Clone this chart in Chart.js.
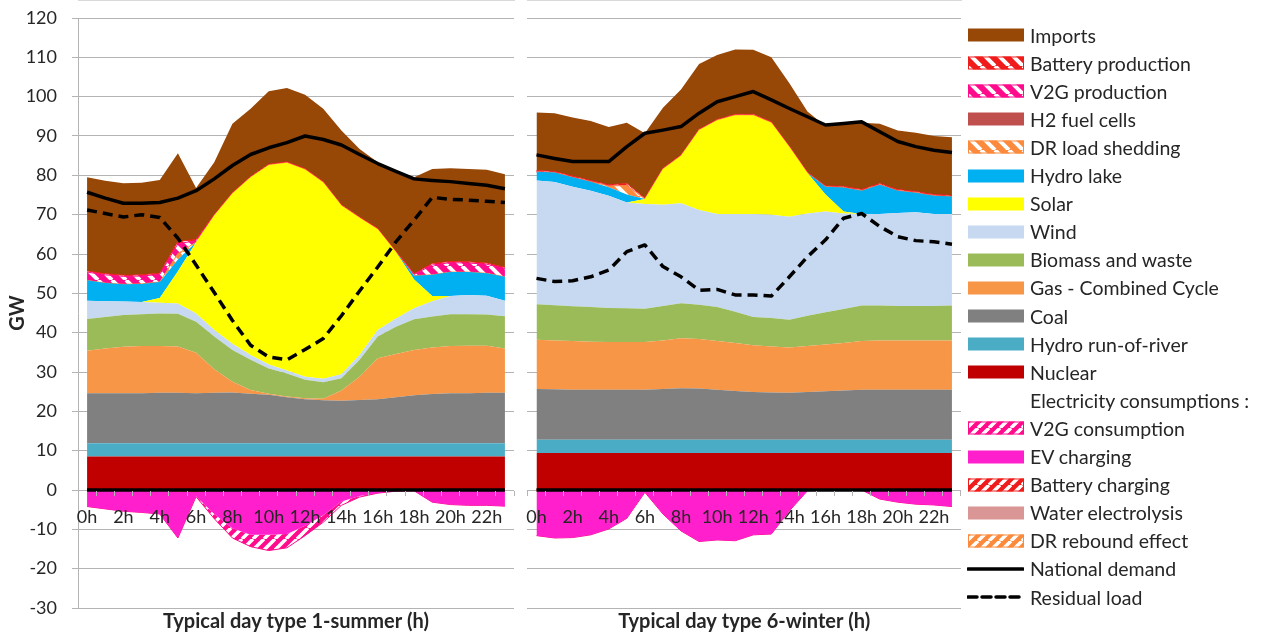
<!DOCTYPE html>
<html lang="en">
<head>
<meta charset="utf-8">
<title>Typical day power balance</title>
<script src="https://cdn.jsdelivr.net/npm/chart.js@4.4.1/dist/chart.umd.min.js"></script>
<style>
  html, body { margin: 0; padding: 0; background: #fff; }
  body { position: relative; width: 1271px; height: 634px; overflow: hidden; font-family: Lato, "Open Sans", sans-serif; }
  .panel { position: absolute; top: 0; height: 634px; }
  #summerPanel { left: 0; width: 520px; }
  #winterPanel { left: 515px; width: 452px; }
  #legend { position: absolute; left: 967px; top: 0; width: 304px; height: 634px; }
  .key { position: absolute; left: 0; height: 22px; display: flex; align-items: center; white-space: nowrap; font-size: 19.5px; color: #262626; }
  .key canvas { width: 57px; height: 22px; margin-right: 6px; flex: none; }
</style>
</head>
<body>
<div id="summerPanel" class="panel"><canvas id="summerChart"></canvas></div>
<div id="winterPanel" class="panel"><canvas id="winterChart"></canvas></div>
<div id="legend"></div>

<script>
const hourLabels = ['0h', '1h', '2h', '3h', '4h', '5h', '6h', '7h', '8h', '9h', '10h', '11h',
  '12h', '13h', '14h', '15h', '16h', '17h', '18h', '19h', '20h', '21h', '22h', '23h'];

// hours with no flow at all (also used for the black line along 0 GW)
const noFlow = [0, 0, 0, 0, 0, 0, 0, 0, 0, 0, 0, 0, 0, 0, 0, 0, 0, 0, 0, 0, 0, 0, 0, 0];

// Typical day type 1 - summer (GW)
const summerNuclear = [8.5, 8.5, 8.5, 8.5, 8.5, 8.5, 8.5, 8.5, 8.5, 8.5, 8.5, 8.5, 8.5, 8.5, 8.5, 8.5, 8.5, 8.5, 8.5, 8.5, 8.5, 8.5, 8.5, 8.5];
const summerRunOfRiver = [3.4, 3.4, 3.4, 3.4, 3.4, 3.4, 3.4, 3.4, 3.4, 3.4, 3.4, 3.4, 3.4, 3.4, 3.4, 3.4, 3.4, 3.4, 3.4, 3.4, 3.4, 3.4, 3.4, 3.4];
const summerCoal = [12.7, 12.7, 12.7, 12.7, 12.8, 12.8, 12.7, 12.8, 12.9, 12.6, 12.3, 11.7, 11.2, 10.9, 10.8, 11.0, 11.2, 11.7, 12.2, 12.5, 12.7, 12.7, 12.8, 12.8];
const summerGas = [10.8, 11.4, 11.8, 12.0, 11.9, 11.8, 10.3, 6.0, 2.7, 0.9, 0.3, 0.2, 0.2, 0.4, 2.6, 5.9, 10.4, 11.0, 11.5, 11.8, 12.0, 12.1, 12.0, 11.3];
const summerBiomass = [8.1, 8.0, 8.1, 8.1, 8.3, 8.3, 7.9, 8.3, 8.1, 7.7, 6.4, 5.8, 4.7, 4.2, 3.1, 4.3, 5.5, 6.9, 7.8, 7.9, 8.1, 8.0, 7.9, 8.2];
const summerWind = [4.6, 4.0, 3.4, 3.1, 2.7, 2.6, 2.1, 1.7, 1.6, 1.2, 1.0, 0.8, 0.8, 0.9, 1.0, 1.2, 1.7, 2.1, 2.8, 3.9, 4.6, 4.9, 4.8, 3.9];
const summerSolar = [0, 0, 0, 0, 1.2, 8.2, 18.1, 29.1, 38.2, 45.2, 50.7, 52.8, 52.7, 49.9, 42.9, 34.9, 25.6, 16.9, 7.3, 1.3, 0, 0, 0, 0];
const summerHydroLake = [5.2, 4.6, 4.4, 4.6, 4.1, 3.0, 0, 0, 0, 0, 0, 0, 0, 0, 0, 0, 0, 0, 1.0, 5.4, 6.1, 5.8, 5.7, 6.1];
const summerShedding = [0, 0, 0, 0, 0, 1.5, 0, 0, 0, 0, 0, 0, 0, 0, 0, 0, 0, 0, 0, 0, 0, 0, 0, 0];
const summerV2gOut = [2.1, 2.1, 2.0, 2.0, 1.9, 2.5, 0.4, 0, 0, 0, 0, 0, 0, 0, 0, 0, 0, 0, 0.3, 2.5, 2.4, 2.3, 2.3, 2.1];
const summerBatteryOut = [0.3, 0.3, 0.3, 0.3, 0.3, 0.6, 0.3, 0.2, 0.2, 0.2, 0.2, 0.2, 0.2, 0.2, 0.2, 0.2, 0.2, 0.2, 0.2, 0.4, 0.3, 0.3, 0.3, 0.3];
const summerImports = [23.8, 23.6, 23.4, 23.4, 23.7, 22.4, 13.1, 13.3, 17.5, 17.2, 18.6, 18.8, 18.8, 18.5, 18.9, 17.3, 16.8, 20.5, 24.5, 24.0, 23.7, 23.6, 23.7, 23.7];
const summerBatteryIn = [0, 0, 0, 0, 0, -0.3, -0.4, 0, 0, 0, 0, 0, 0, 0, 0, 0, 0, 0, 0, 0, 0, 0, 0, 0];
const summerEv = [-4.2, -4.8, -5.4, -5.7, -6.1, -11.9, -1.2, -6.1, -9.7, -11.4, -11.4, -11.2, -9.1, -6.4, -2.9, -1.5, -0.8, -0.3, -0.2, -3.1, -3.7, -3.9, -3.9, -4.1];
const summerV2gIn = [0, 0, 0, 0, 0, 0, -0.1, -1.2, -2.5, -3.0, -4.0, -3.5, -2.5, -1.8, -1.0, -0.3, 0, 0, 0, 0, 0, 0, 0, 0];
const summerDemand = [75.7, 74.2, 72.9, 72.9, 73.1, 74.2, 76.1, 79.1, 82.5, 85.3, 87.0, 88.3, 90.0, 89.1, 87.7, 85.3, 83.0, 81.0, 79.1, 78.7, 78.4, 77.9, 77.5, 76.6];
const summerResidual = [71.2, 70.3, 69.4, 70.0, 69.3, 64.0, 57.2, 50.2, 43.1, 36.8, 33.8, 33.1, 35.7, 38.5, 44.3, 50.6, 56.7, 63.1, 68.6, 74.4, 73.9, 73.7, 73.4, 73.1];

// Typical day type 6 - winter (GW)
const winterNuclear = [9.4, 9.4, 9.4, 9.4, 9.4, 9.4, 9.4, 9.4, 9.4, 9.4, 9.4, 9.4, 9.4, 9.4, 9.4, 9.4, 9.4, 9.4, 9.4, 9.4, 9.4, 9.4, 9.4, 9.4];
const winterRunOfRiver = [3.4, 3.4, 3.4, 3.4, 3.4, 3.4, 3.4, 3.4, 3.4, 3.4, 3.4, 3.4, 3.4, 3.4, 3.4, 3.4, 3.4, 3.4, 3.4, 3.4, 3.4, 3.4, 3.4, 3.4];
const winterCoal = [12.9, 12.8, 12.7, 12.7, 12.7, 12.7, 12.7, 12.9, 13.1, 13.0, 12.7, 12.4, 12.1, 12.0, 11.9, 12.1, 12.3, 12.5, 12.7, 12.7, 12.7, 12.7, 12.7, 12.7];
const winterGas = [12.5, 12.4, 12.4, 12.2, 12.1, 12.1, 12.1, 12.3, 12.7, 12.6, 12.4, 12.2, 11.9, 11.7, 11.5, 11.7, 11.9, 12.1, 12.4, 12.5, 12.5, 12.5, 12.5, 12.5];
const winterBiomass = [9.0, 9.0, 8.8, 8.8, 8.7, 8.6, 8.5, 8.8, 8.9, 8.7, 8.6, 7.9, 7.2, 7.2, 7.1, 7.7, 8.2, 8.6, 9.0, 8.9, 8.8, 8.8, 8.8, 8.9];
const winterWind = [31.5, 31.3, 30.4, 29.6, 28.5, 26.9, 26.6, 25.7, 25.4, 24.1, 23.7, 24.9, 26.2, 26.3, 26.2, 26.0, 25.6, 24.3, 23.3, 23.3, 23.6, 23.8, 23.4, 23.3];
const winterSolar = [0, 0, 0, 0, 0, 0, 1.3, 9.1, 12.1, 20.3, 23.8, 25.1, 25.1, 23.4, 17.7, 10.3, 4.3, 0.5, 0, 0, 0, 0, 0, 0];
const winterHydroLake = [2.2, 2.4, 2.4, 2.3, 2.2, 2.0, 0, 0, 0, 0, 0, 0, 0, 0, 0, 0, 2.0, 6.1, 5.9, 7.4, 5.7, 5.0, 4.6, 4.4];
const winterShedding = [0, 0, 0, 0, 0.3, 2.3, 0, 0, 0, 0, 0, 0, 0, 0, 0, 0, 0, 0, 0, 0, 0, 0, 0, 0];
const winterBatteryOut = [0.3, 0.3, 0.3, 0.3, 0.3, 0.5, 0.2, 0.2, 0.2, 0.2, 0.2, 0.2, 0.2, 0.2, 0.2, 0.2, 0.2, 0.3, 0.3, 0.3, 0.3, 0.3, 0.3, 0.3];
const winterImports = [14.8, 14.8, 14.9, 15.1, 14.7, 15.5, 16.5, 15.4, 16.6, 16.6, 16.4, 16.5, 16.4, 16.4, 16.0, 15.4, 15.2, 15.9, 17.0, 15.2, 15.0, 14.9, 14.9, 14.8];
const winterEv = [-11.6, -12.2, -12.1, -11.4, -9.9, -7.2, -0.6, -6.1, -10.4, -13.1, -12.7, -12.9, -11.4, -11.2, -5.3, -0.2, 0, 0, 0, -2.3, -3.1, -3.6, -3.8, -4.2];
const winterDemand = [85.2, 84.3, 83.5, 83.5, 83.5, 87.3, 90.7, 91.5, 92.4, 95.8, 98.7, 100.0, 101.3, 99.2, 97.0, 94.9, 92.8, 93.2, 93.6, 91.1, 88.6, 87.3, 86.4, 85.8];
const winterResidual = [53.8, 53.0, 53.2, 54.2, 55.9, 60.6, 62.3, 56.8, 54.2, 50.8, 51.0, 49.6, 49.6, 49.3, 54.2, 59.3, 63.6, 69.1, 70.3, 67.0, 64.4, 63.4, 63.1, 62.5];

// Production layers, stacked from 0 upwards
const PRODUCTION = [
  { key: 'nuclear', label: 'Nuclear', color: '#c00000' },
  { key: 'runOfRiver', label: 'Hydro run-of-river', color: '#4bacc6' },
  { key: 'coal', label: 'Coal', color: '#808080' },
  { key: 'gas', label: 'Gas - Combined Cycle', color: '#f79646' },
  { key: 'biomass', label: 'Biomass and waste', color: '#9bbb59' },
  { key: 'wind', label: 'Wind', color: '#c6d9f1' },
  { key: 'solar', label: 'Solar', color: '#ffff00' },
  { key: 'hydroLake', label: 'Hydro lake', color: '#00b0f0' },
  { key: 'shedding', label: 'DR load shedding', color: '#fb8a3c', hatch: '\\' },
  { key: 'fuelCells', label: 'H2 fuel cells', color: '#c0504d' },
  { key: 'v2gOut', label: 'V2G production', color: '#ff0b8c', hatch: '\\' },
  { key: 'batteryOut', label: 'Battery production', color: '#f01c1c', hatch: '\\' },
  { key: 'imports', label: 'Imports', color: '#974706' }
];

// Consumption layers, stacked from 0 downwards
const CONSUMPTION = [
  { key: 'rebound', label: 'DR rebound effect', color: '#fb8a3c', hatch: '/' },
  { key: 'electrolysis', label: 'Water electrolysis', color: '#d99694' },
  { key: 'batteryIn', label: 'Battery charging', color: '#f01c1c', hatch: '/' },
  { key: 'ev', label: 'EV charging', color: '#ff1fcc' },
  { key: 'v2gIn', label: 'V2G consumption', color: '#ff0b8c', hatch: '/' }
];

const summer = {
  nuclear: summerNuclear, runOfRiver: summerRunOfRiver, coal: summerCoal, gas: summerGas,
  biomass: summerBiomass, wind: summerWind, solar: summerSolar, hydroLake: summerHydroLake,
  shedding: summerShedding, fuelCells: noFlow, v2gOut: summerV2gOut, batteryOut: summerBatteryOut,
  imports: summerImports, rebound: noFlow, electrolysis: noFlow, batteryIn: summerBatteryIn,
  ev: summerEv, v2gIn: summerV2gIn, demand: summerDemand, residual: summerResidual
};

const winter = {
  nuclear: winterNuclear, runOfRiver: winterRunOfRiver, coal: winterCoal, gas: winterGas,
  biomass: winterBiomass, wind: winterWind, solar: winterSolar, hydroLake: winterHydroLake,
  shedding: winterShedding, fuelCells: noFlow, v2gOut: noFlow, batteryOut: winterBatteryOut,
  imports: winterImports, rebound: noFlow, electrolysis: noFlow, batteryIn: noFlow,
  ev: winterEv, v2gIn: noFlow, demand: winterDemand, residual: winterResidual
};

const GRID = '#b4b4b4';
const TEXT = '#262626';
const FONT = 'Lato, "Open Sans", sans-serif';

Chart.defaults.font.family = FONT;
Chart.defaults.color = TEXT;

// white diagonal stripes over a base colour
function hatchPattern(base, dir) {
  const size = dir === '/' ? 11 : 14;
  const tile = document.createElement('canvas');
  tile.width = tile.height = size;
  const g = tile.getContext('2d');
  g.fillStyle = base;
  g.fillRect(0, 0, size, size);
  g.strokeStyle = '#ffffff';
  g.lineWidth = dir === '/' ? 3.5 : 4;
  g.beginPath();
  for (let k = -1; k <= 1; k++) {
    if (dir === '/') {
      g.moveTo(k * size, size);
      g.lineTo(k * size + size, 0);
    } else {
      g.moveTo(k * size, 0);
      g.lineTo(k * size + size, size);
    }
  }
  g.stroke();
  return g.createPattern(tile, 'repeat');
}

function areaSet(style, data, stack, first) {
  return {
    label: style.label,
    data,
    stack,
    fill: first ? 'origin' : '-1',
    backgroundColor: style.hatch ? hatchPattern(style.color, style.hatch) : style.color,
    borderColor: style.hatch ? style.color : 'rgba(0,0,0,0)',
    borderWidth: style.hatch ? 1 : 0,
    pointRadius: 0,
    tension: 0
  };
}

function lineSet(label, data, dash, stack) {
  return {
    label,
    data,
    stack,
    fill: false,
    borderColor: '#000000',
    borderWidth: 3.5,
    borderDash: dash,
    borderCapStyle: 'butt',
    borderJoinStyle: 'round',
    pointRadius: 0,
    tension: 0
  };
}

function buildDatasets(series) {
  // lines go first: Chart.js paints the first dataset last, i.e. on top
  const sets = [
    lineSet('National demand', series.demand, [], 'demand'),
    lineSet('Residual load', series.residual, [10, 6], 'residual'),
    lineSet('zero', noFlow, [], 'zero')
  ];
  CONSUMPTION.forEach((s, i) => sets.push(areaSet(s, series[s.key], 'consumption', i === 0)));
  PRODUCTION.forEach((s, i) => sets.push(areaSet(s, series[s.key], 'production', i === 0)));
  return sets;
}

function panelOptions(title, withAxis) {
  const tickFont = { family: FONT, size: 18 };
  const titleFont = { family: FONT, size: 20, weight: 'bold' };
  return {
    responsive: true,
    maintainAspectRatio: false,
    animation: false,
    events: [],
    layout: { padding: { top: 18, right: 6, bottom: 0, left: 0 } },
    plugins: {
      legend: { display: false },
      tooltip: { enabled: false },
      title: {
        display: true,
        text: title,
        position: 'bottom',
        fullSize: false,
        color: TEXT,
        font: titleFont,
        padding: { top: 2, bottom: 0 }
      }
    },
    scales: {
      x: {
        type: 'category',
        position: { y: 0 },
        offset: true,
        // hour labels and tick marks sit over the consumption areas
        grid: { offset: true, drawOnChartArea: false, drawTicks: true, tickLength: 5, color: GRID, z: 1 },
        border: { color: GRID, z: 0 },
        ticks: {
          z: 1,
          autoSkip: false,
          maxRotation: 0,
          padding: 11,
          color: TEXT,
          font: tickFont,
          callback: (value, index) => (index % 2 === 0 ? hourLabels[index] : '')
        }
      },
      y: {
        stacked: true,
        min: -30,
        max: 120,
        ticks: { display: withAxis, stepSize: 10, padding: 15, color: TEXT, font: tickFont },
        grid: { color: GRID, drawTicks: withAxis, tickLength: 6 },
        border: { display: withAxis, color: GRID },
        title: {
          display: withAxis,
          text: 'GW',
          color: TEXT,
          font: titleFont,
          padding: { top: 6, bottom: 0 }
        },
        afterFit: (scale) => {
          scale.width = withAxis ? 78 : 10;
          // keep the plot edges at 120 / -30 GW independent of label size
          scale.paddingTop = 0;
          scale.paddingBottom = 0;
        }
      }
    }
  };
}

new Chart(document.getElementById('summerChart'), {
  type: 'line',
  data: { labels: hourLabels, datasets: buildDatasets(summer) },
  options: panelOptions('Typical day type 1-summer (h)', true)
});

new Chart(document.getElementById('winterChart'), {
  type: 'line',
  data: { labels: hourLabels, datasets: buildDatasets(winter) },
  options: panelOptions('Typical day type 6-winter (h)', false)
});

// Legend, one row per series, same order as the original workbook
const legendRows = [
  ...PRODUCTION.slice().reverse().map(s => ({ label: s.label, swatch: s })),
  { label: 'Electricity consumptions :' },
  ...CONSUMPTION.slice().reverse().map(s => ({ label: s.label, swatch: s })),
  { label: 'National demand', dash: [] },
  { label: 'Residual load', dash: [9, 5] }
];

const legendBox = document.getElementById('legend');
legendRows.forEach((row, i) => {
  const key = document.createElement('div');
  key.className = 'key';
  key.style.top = (35 + i * 28.1 - 11) + 'px';

  const sw = document.createElement('canvas');
  sw.width = 57;
  sw.height = 22;
  const g = sw.getContext('2d');
  if (row.swatch) {
    g.fillStyle = row.swatch.hatch ? hatchPattern(row.swatch.color, row.swatch.hatch) : row.swatch.color;
    g.fillRect(1, 4.5, 56, 13);
    if (row.swatch.hatch) {
      g.strokeStyle = row.swatch.color;
      g.lineWidth = 1;
      g.strokeRect(1.5, 5, 55, 12);
    }
  } else if (row.dash) {
    g.strokeStyle = '#000';
    g.lineWidth = 3.5;
    g.lineCap = 'round';
    g.setLineDash(row.dash);
    g.beginPath();
    g.moveTo(1, 11);
    g.lineTo(56, 11);
    g.stroke();
  }
  key.appendChild(sw);

  const text = document.createElement('span');
  text.textContent = row.label;
  key.appendChild(text);
  legendBox.appendChild(key);
});
</script>
</body>
</html>
